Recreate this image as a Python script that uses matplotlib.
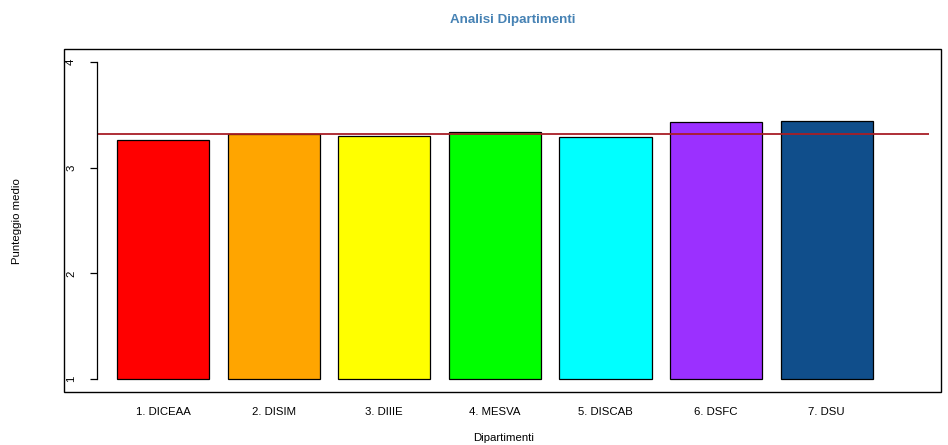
import matplotlib
matplotlib.use("Agg")
import matplotlib.pyplot as plt
from matplotlib.patches import Rectangle

plt.rcParams['font.family'] = ['Liberation Sans', 'DejaVu Sans']

# Data
dipartimenti = ['1. DICEAA', '2. DISIM', '3. DIIIE', '4. MESVA', '5. DISCAB', '6. DSFC', '7. DSU']
punteggi = [3.26, 3.315, 3.295, 3.34, 3.285, 3.43, 3.44]
media_generale = 3.319
colori = ['#FF0000', '#FFA500', '#FFFF00', '#00FF00', '#00FFFF', '#9B30FF', '#104E8B']

W, H = 948, 445
fig = plt.figure(figsize=(W / 100, H / 100), dpi=100)

# plot region in pixels (R style)
px_left, px_right, px_top, px_bottom = 97, 929, 49, 392
ax = fig.add_axes([px_left / W, 1 - px_bottom / H,
                   (px_right - px_left) / W, (px_bottom - px_top) / H])

# bar positions like R barplot (width 1, space 0.2)
centers = [0.7 + 1.2 * i for i in range(len(punteggi))]
heights = [p - 1 for p in punteggi]
ax.bar(centers, heights, width=1.0, bottom=1, color=colori,
       edgecolor='black', linewidth=0.9)

ax.axhline(media_generale, color='#A81E26', linewidth=1.3)

ax.set_xlim(-0.016, 9.01)
ax.set_ylim(0.88, 4.12)

for s in ['top', 'right', 'bottom']:
    ax.spines[s].set_visible(False)
ax.spines['left'].set_bounds(1, 4)
ax.spines['left'].set_linewidth(0.9)
ax.set_yticks([1, 2, 3, 4])
ax.set_yticklabels(['1', '2', '3', '4'], rotation=90, va='center', fontsize=8.2)
ax.tick_params(axis='y', length=5, width=0.9, pad=10)
ax.set_xticks(centers)
ax.set_xticklabels(dipartimenti, fontsize=8.2)
ax.tick_params(axis='x', length=0, pad=11)

# outer box
fig.add_artist(Rectangle((64 / W, 1 - 392 / H), (941 - 64) / W, (392 - 49) / H,
                         transform=fig.transFigure, fill=False,
                         edgecolor='black', linewidth=1.0))

fig.text(513 / W, 1 - 20 / H, 'Analisi Dipartimenti', ha='center', va='center',
         fontsize=9.6, fontweight='bold', color='#4682B4')
fig.text(504 / W, 1 - 438 / H, 'Dipartimenti', ha='center', va='center', fontsize=8.2)
fig.text(17 / W, 1 - 221 / H, 'Punteggio medio', ha='center', va='center',
         rotation=90, fontsize=8.2)

fig.savefig('out.png', dpi=100)
